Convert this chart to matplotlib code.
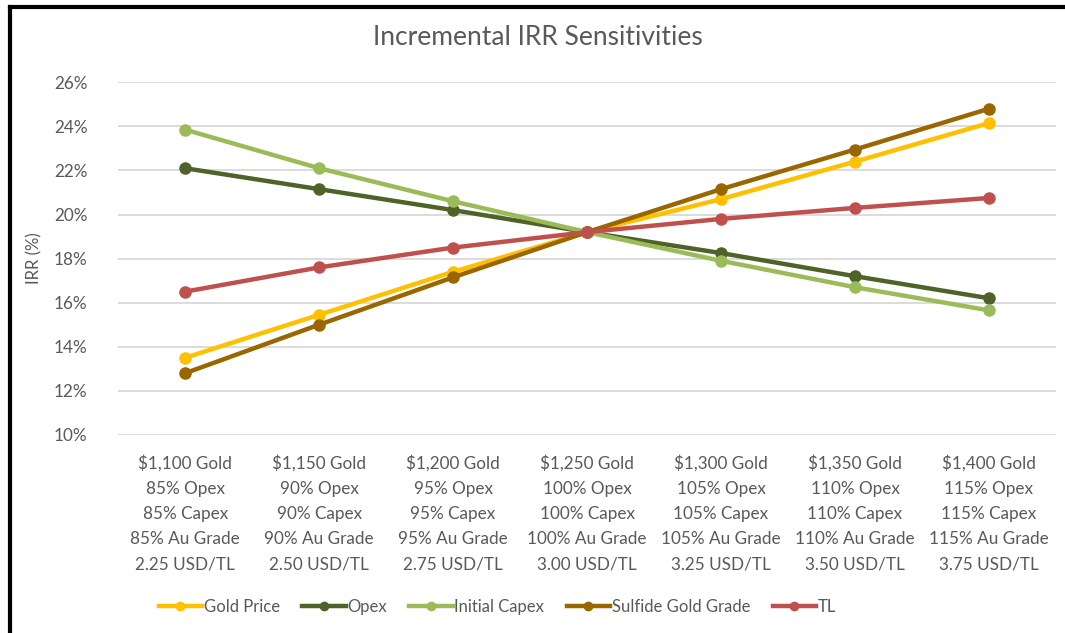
import matplotlib
matplotlib.use("Agg")
import matplotlib.pyplot as plt
from matplotlib.lines import Line2D

plt.rcParams['font.family'] = ['Lato', 'DejaVu Sans']

# categories (x axis)
categories = [
    "$1,100 Gold\n85% Opex\n85% Capex\n85% Au Grade\n2.25 USD/TL",
    "$1,150 Gold\n90% Opex\n90% Capex\n90% Au Grade\n2.50 USD/TL",
    "$1,200 Gold\n95% Opex\n95% Capex\n95% Au Grade\n2.75 USD/TL",
    "$1,250 Gold\n100% Opex\n100% Capex\n100% Au Grade\n3.00 USD/TL",
    "$1,300 Gold\n105% Opex\n105% Capex\n105% Au Grade\n3.25 USD/TL",
    "$1,350 Gold\n110% Opex\n110% Capex\n110% Au Grade\n3.50 USD/TL",
    "$1,400 Gold\n115% Opex\n115% Capex\n115% Au Grade\n3.75 USD/TL",
]

# IRR values (%)
gold_price = [13.5, 15.45, 17.4, 19.2, 20.7, 22.4, 24.15]
opex = [22.1, 21.15, 20.2, 19.2, 18.25, 17.2, 16.2]
initial_capex = [23.85, 22.1, 20.6, 19.2, 17.9, 16.7, 15.65]
sulfide_grade = [12.8, 15.0, 17.15, 19.2, 21.15, 22.95, 24.8]
tl = [16.5, 17.6, 18.5, 19.2, 19.8, 20.3, 20.75]

series = [
    ("Gold Price", gold_price, "#ffc000"),
    ("Opex", opex, "#4f6228"),
    ("Initial Capex", initial_capex, "#9bbb59"),
    ("Sulfide Gold Grade", sulfide_grade, "#996600"),
    ("TL", tl, "#c0504d"),
]

fig = plt.figure(figsize=(10.65, 6.33), dpi=100)
ax = fig.add_axes([0.111, 0.313, 0.8805, 0.557])

x = list(range(len(categories)))
handles = []
for name, vals, col in series:
    ax.plot(x, vals, color=col, lw=3.2, marker='o', ms=8, label=name,
            solid_capstyle='round')
    handles.append(Line2D([0], [0], color=col, lw=3.2, marker='o', ms=6))

ax.set_xlim(-0.5, len(categories) - 0.5)
ax.set_ylim(10, 26)
ax.set_yticks(range(10, 27, 2))
ax.set_yticklabels([f"{v}%" for v in range(10, 27, 2)])
ax.set_xticks(x)
ax.set_xticklabels(categories, linespacing=1.72)
ax.tick_params(axis='both', length=0, colors='#595959', labelsize=12.3)
ax.tick_params(axis='x', pad=14)
ax.tick_params(axis='y', pad=22)
ax.grid(axis='y', color='#d9d9d9', lw=1.3)
ax.set_axisbelow(True)
for s in ax.spines.values():
    s.set_visible(False)

ax.set_ylabel("IRR (%)", color='#595959', fontsize=12, labelpad=8)
fig.text(0.505, 0.94, "Incremental IRR Sensitivities", ha='center', va='center',
         fontsize=19, color='#595959')

fig.legend(handles, [s[0] for s in series], loc='center', ncol=5,
           bbox_to_anchor=(0.467, 0.041), frameon=False, fontsize=12,
           handlelength=2.6, columnspacing=1.35, handletextpad=0.1,
           labelcolor='#595959')

# black frame lines on left and top edges
fig.add_artist(Line2D([0.009, 0.009], [0, 0.989], color='black', lw=3,
                      transform=fig.transFigure))
fig.add_artist(Line2D([0.009, 1.0], [0.989, 0.989], color='black', lw=3,
                      transform=fig.transFigure))

fig.savefig("out.png", dpi=100)
